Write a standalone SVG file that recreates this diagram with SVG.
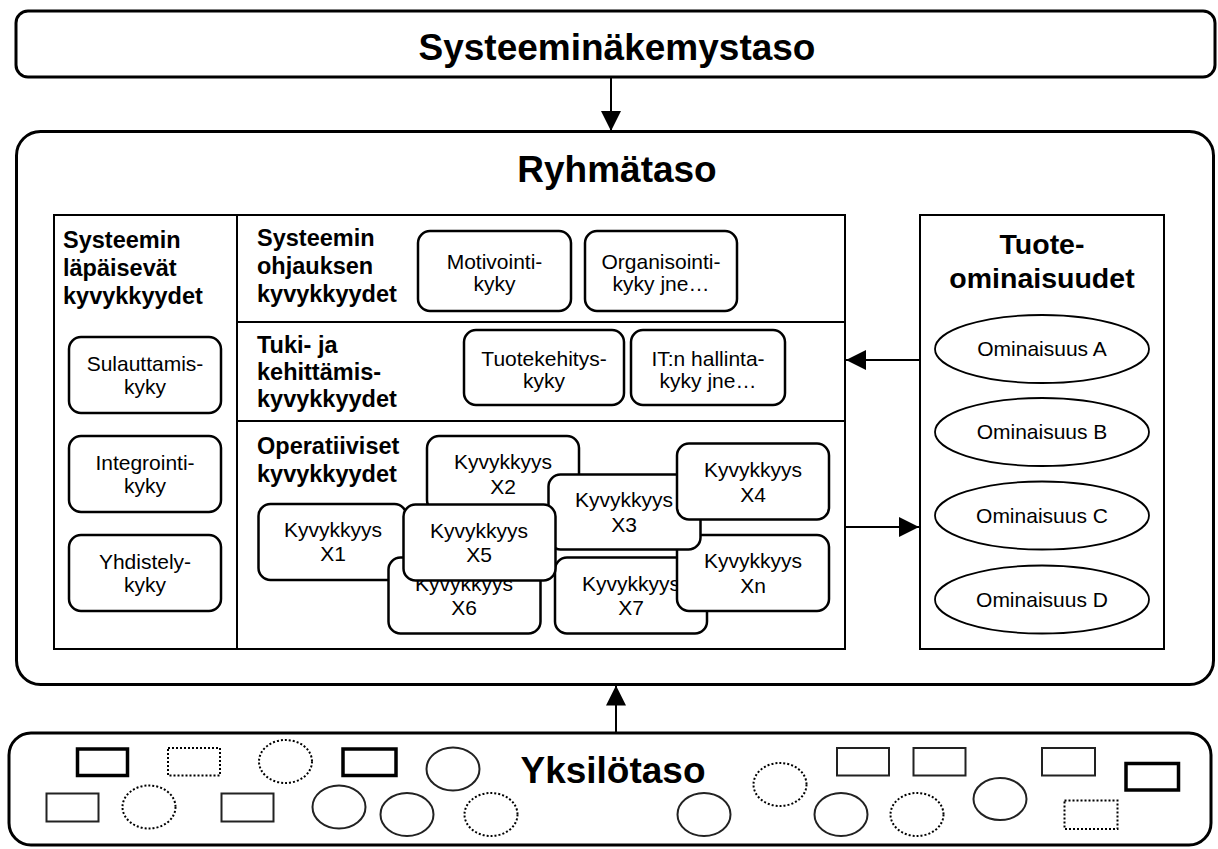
<svg xmlns="http://www.w3.org/2000/svg" width="1218" height="849" viewBox="0 0 1218 849">
  <defs>
    <marker id="arrowHead" markerUnits="userSpaceOnUse" markerWidth="20" markerHeight="20" refX="20" refY="10" orient="auto">
      <path d="M0,0 L20,10 L0,20 z" fill="#000"/>
    </marker>
    <style>
      text { font-family: "Liberation Sans", Arial, sans-serif; fill: #000; }
      .title { font-size: 37px; font-weight: bold; text-anchor: middle; }
      .head { font-size: 23.5px; font-weight: bold; }
      .headC { font-size: 28.5px; font-weight: bold; text-anchor: middle; }
      .lbl { font-size: 21px; text-anchor: middle; }
      .level { fill: #fff; stroke: #000; stroke-width: 3; }
      .panel { fill: #fff; stroke: #000; stroke-width: 2; }
      .cap { fill: #fff; stroke: #000; stroke-width: 2.5; }
      .feat { fill: #fff; stroke: #000; stroke-width: 1.8; }
      .thin { fill: #fff; stroke: #222; stroke-width: 2; }
      .thick { fill: #fff; stroke: #000; stroke-width: 3.5; }
      .dot { fill: #fff; stroke: #000; stroke-width: 2; stroke-dasharray: 2 2; }
      .link { stroke: #000; stroke-width: 2; fill: none; }
    </style>
  </defs>

  <rect width="1218" height="849" fill="#fff"/>

  <!-- System view level -->
  <g id="systeeminakemystaso">
    <rect class="level" x="16" y="11" width="1199" height="66" rx="12"/>
    <text class="title" x="617" y="60">Systeeminäkemystaso</text>
  </g>

  <!-- Group level container -->
  <g id="ryhmataso">
    <rect class="level" x="16.5" y="131.5" width="1197" height="553" rx="24"/>
    <text class="title" x="617" y="182">Ryhmätaso</text>
  </g>

  <!-- Pervasive capabilities column -->
  <g id="lapaisevat">
    <rect class="panel" x="54" y="215" width="183" height="434"/>
    <text class="head" x="63" y="248">Systeemin</text>
    <text class="head" x="63" y="276">läpäisevät</text>
    <text class="head" x="63" y="304">kyvykkyydet</text>
  </g>
  <g id="sulauttamiskyky">
    <rect class="cap" x="69" y="337" width="152" height="76" rx="12"/>
    <text class="lbl" x="145" y="371">Sulauttamis-</text>
    <text class="lbl" x="145" y="394">kyky</text>
  </g>
  <g id="integrointikyky">
    <rect class="cap" x="69" y="436" width="152" height="76" rx="12"/>
    <text class="lbl" x="145" y="470">Integrointi-</text>
    <text class="lbl" x="145" y="493">kyky</text>
  </g>
  <g id="yhdistelykyky">
    <rect class="cap" x="69" y="535" width="152" height="76" rx="12"/>
    <text class="lbl" x="145" y="569">Yhdistely-</text>
    <text class="lbl" x="145" y="592">kyky</text>
  </g>

  <!-- Capability layers column -->
  <g id="kyvykkyyskerrokset">
    <rect class="panel" x="237" y="215" width="608" height="434"/>
    <line class="panel" x1="237" y1="322" x2="845" y2="322"/>
    <line class="panel" x1="237" y1="421" x2="845" y2="421"/>
    <text class="head" x="257" y="246">Systeemin</text>
    <text class="head" x="257" y="274">ohjauksen</text>
    <text class="head" x="257" y="302">kyvykkyydet</text>
    <text class="head" x="257" y="353">Tuki- ja</text>
    <text class="head" x="257" y="380">kehittämis-</text>
    <text class="head" x="257" y="407">kyvykkyydet</text>
    <text class="head" x="257" y="454">Operatiiviset</text>
    <text class="head" x="257" y="482">kyvykkyydet</text>
  </g>
  <g id="motivointikyky">
    <rect class="cap" x="418" y="231" width="153" height="80" rx="12"/>
    <text class="lbl" x="494.5" y="269">Motivointi-</text>
    <text class="lbl" x="494.5" y="291">kyky</text>
  </g>
  <g id="organisointikyky">
    <rect class="cap" x="585" y="231" width="152" height="80" rx="12"/>
    <text class="lbl" x="661" y="269">Organisointi-</text>
    <text class="lbl" x="661" y="291">kyky jne…</text>
  </g>
  <g id="tuotekehityskyky">
    <rect class="cap" x="464" y="330" width="160" height="75" rx="12"/>
    <text class="lbl" x="544" y="366">Tuotekehitys-</text>
    <text class="lbl" x="544" y="388">kyky</text>
  </g>
  <g id="it-hallintakyky">
    <rect class="cap" x="631" y="330" width="154" height="75" rx="12"/>
    <text class="lbl" x="708" y="366">IT:n hallinta-</text>
    <text class="lbl" x="708" y="388">kyky jne…</text>
  </g>

  <!-- Operative capabilities, stacked back to front -->
  <g id="x2">
    <rect class="cap" x="427" y="436" width="152" height="76" rx="12"/>
    <text class="lbl" x="503" y="469">Kyvykkyys</text>
    <text class="lbl" x="503" y="494">X2</text>
  </g>
  <g id="x1">
    <rect class="cap" x="258.5" y="504" width="148" height="76" rx="12"/>
    <text class="lbl" x="333" y="537">Kyvykkyys</text>
    <text class="lbl" x="333" y="561">X1</text>
  </g>
  <g id="x6">
    <rect class="cap" x="388.5" y="557.5" width="152" height="76" rx="12"/>
    <text class="lbl" x="464" y="591">Kyvykkyys</text>
    <text class="lbl" x="464" y="615">X6</text>
  </g>
  <g id="x7">
    <rect class="cap" x="555" y="557.5" width="152" height="76" rx="12"/>
    <text class="lbl" x="631" y="591">Kyvykkyys</text>
    <text class="lbl" x="631" y="615">X7</text>
  </g>
  <g id="xn">
    <rect class="cap" x="677" y="535" width="152" height="76" rx="12"/>
    <text class="lbl" x="753" y="568">Kyvykkyys</text>
    <text class="lbl" x="753" y="593">Xn</text>
  </g>
  <g id="x3">
    <rect class="cap" x="548.5" y="474.5" width="152" height="75" rx="12"/>
    <text class="lbl" x="624" y="507">Kyvykkyys</text>
    <text class="lbl" x="624" y="532">X3</text>
  </g>
  <g id="x4">
    <rect class="cap" x="677" y="443.5" width="152" height="76" rx="12"/>
    <text class="lbl" x="753" y="477">Kyvykkyys</text>
    <text class="lbl" x="753" y="502">X4</text>
  </g>
  <g id="x5">
    <rect class="cap" x="403.5" y="504.5" width="152" height="76" rx="12"/>
    <text class="lbl" x="479" y="538">Kyvykkyys</text>
    <text class="lbl" x="479" y="562">X5</text>
  </g>

  <!-- Product features column -->
  <g id="tuoteominaisuudet">
    <rect class="panel" x="920" y="215" width="244" height="434"/>
    <text class="headC" x="1042" y="254">Tuote-</text>
    <text class="headC" x="1042" y="288">ominaisuudet</text>
  </g>
  <g id="ominaisuus-a">
    <ellipse class="feat" cx="1042" cy="349" rx="107" ry="34"/>
    <text class="lbl" x="1042" y="356">Ominaisuus A</text>
  </g>
  <g id="ominaisuus-b">
    <ellipse class="feat" cx="1042" cy="432" rx="107" ry="34"/>
    <text class="lbl" x="1042" y="439">Ominaisuus B</text>
  </g>
  <g id="ominaisuus-c">
    <ellipse class="feat" cx="1042" cy="515.5" rx="107" ry="34"/>
    <text class="lbl" x="1042" y="523">Ominaisuus C</text>
  </g>
  <g id="ominaisuus-d">
    <ellipse class="feat" cx="1042" cy="599.5" rx="107" ry="34"/>
    <text class="lbl" x="1042" y="607">Ominaisuus D</text>
  </g>

  <!-- Individual level with its members -->
  <g id="yksilotaso">
    <rect class="level" x="9" y="733" width="1202" height="112" rx="22"/>
    <text class="title" x="613" y="783">Yksilötaso</text>
    <rect class="thick" x="77.5" y="749" width="50" height="26.5"/>
    <rect class="dot" x="168" y="748" width="52" height="27.5"/>
    <ellipse class="dot" cx="285.5" cy="761.5" rx="26.5" ry="21.5"/>
    <rect class="thick" x="343" y="749" width="53" height="26.5"/>
    <ellipse class="thin" cx="453" cy="769" rx="26.5" ry="21.5"/>
    <rect class="thin" x="46.5" y="793.5" width="52" height="28"/>
    <ellipse class="dot" cx="149" cy="807" rx="26.5" ry="21.5"/>
    <rect class="thin" x="221.5" y="793.5" width="52" height="28"/>
    <ellipse class="thin" cx="339" cy="807" rx="26.5" ry="21.5"/>
    <ellipse class="thin" cx="407" cy="814.5" rx="26.5" ry="21.5"/>
    <ellipse class="dot" cx="491" cy="814.5" rx="26.5" ry="21.5"/>
    <ellipse class="thin" cx="704" cy="814.5" rx="26.5" ry="21.5"/>
    <ellipse class="dot" cx="780" cy="784.5" rx="26.5" ry="21.5"/>
    <rect class="thin" x="837" y="748" width="52" height="27.5"/>
    <rect class="thin" x="913.5" y="748" width="52" height="27.5"/>
    <ellipse class="thin" cx="841" cy="814.5" rx="26.5" ry="21.5"/>
    <ellipse class="dot" cx="917" cy="814.5" rx="26.5" ry="21.5"/>
    <ellipse class="thin" cx="1000" cy="799" rx="26.5" ry="21"/>
    <rect class="thin" x="1042" y="748" width="53" height="27.5"/>
    <rect class="thick" x="1126" y="763.5" width="52.5" height="26.5"/>
    <rect class="dot" x="1064.5" y="800.5" width="53" height="28.5"/>
  </g>

  <!-- Connectors -->
  <g id="connectors">
    <line class="link" x1="611" y1="78" x2="611" y2="131" marker-end="url(#arrowHead)"/>
    <line class="link" x1="616" y1="732" x2="616" y2="685.5" marker-end="url(#arrowHead)"/>
    <line class="link" x1="920" y1="360" x2="846" y2="360" marker-end="url(#arrowHead)"/>
    <line class="link" x1="845" y1="527" x2="919" y2="527" marker-end="url(#arrowHead)"/>
  </g>
</svg>
